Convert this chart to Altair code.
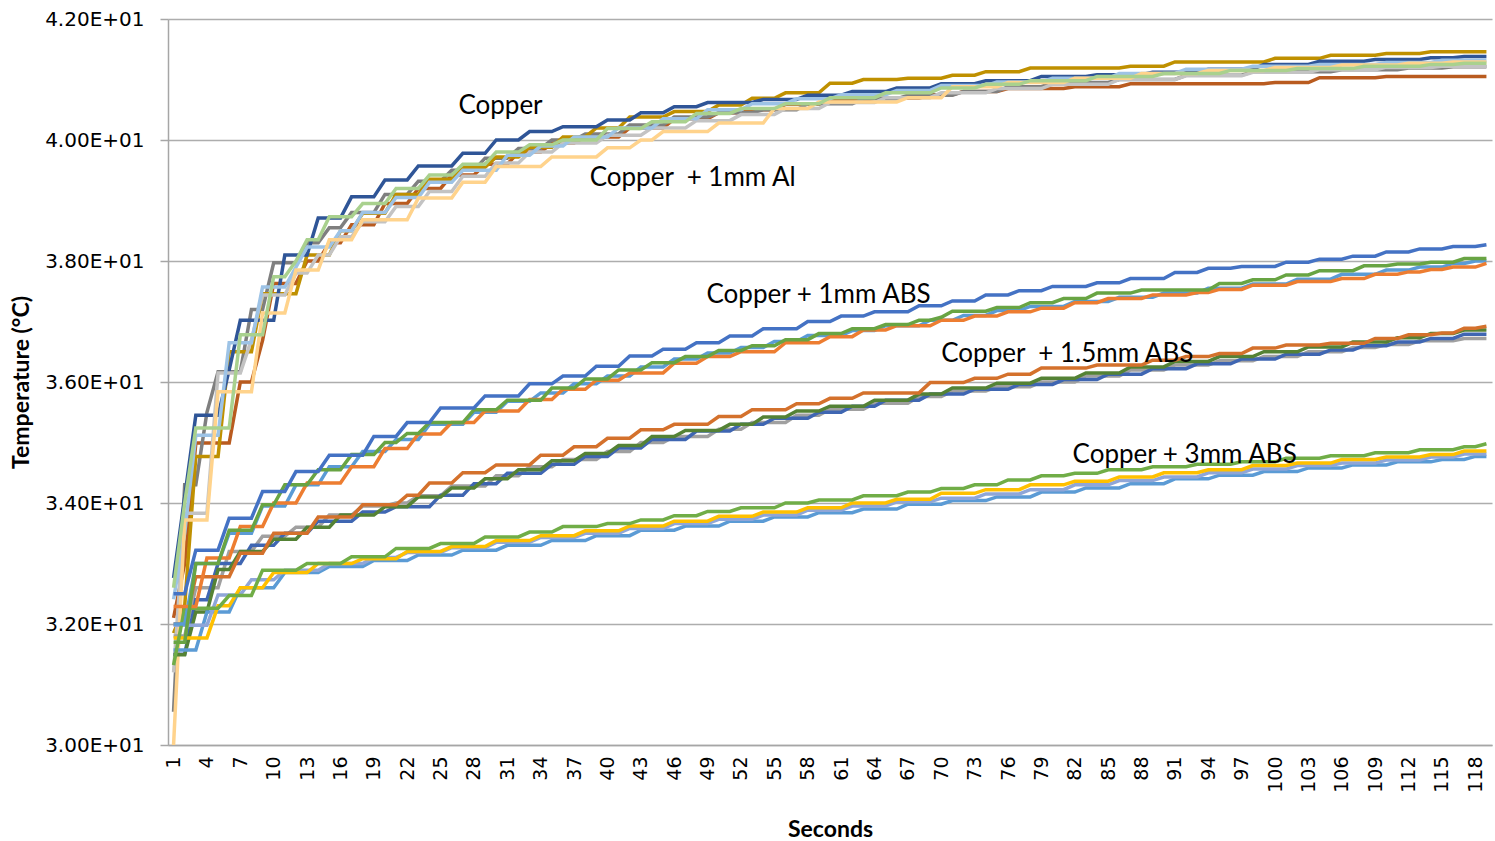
import altair as alt
import pandas as pd

# ---- data: step levels, [first second of level, temperature degC] ----
COPPER_A = [[1,32.76],[2,34.1],[3,35.45],[6,36.2],[7,37.02],[11,38.1],[14,38.71],[17,39.06],[20,39.34],[23,39.57],[27,39.78],[30,40.0],[33,40.14],[36,40.22],[40,40.33],[43,40.45],[46,40.55],[49,40.62],[54,40.67],[58,40.74],[62,40.8],[66,40.86],[70,40.93],[74,40.98],[79,41.05],[84,41.08],[89,41.12],[94,41.17],[99,41.25],[104,41.3],[109,41.33],[114,41.36],[117,41.38]]
COPPER_B = [[1,31.85],[2,32.3],[3,34.77],[6,36.5],[9,37.46],[13,38.1],[16,38.5],[18,38.79],[21,39.1],[24,39.35],[27,39.55],[30,39.72],[33,39.88],[36,40.05],[39,40.2],[42,40.38],[46,40.47],[50,40.58],[53,40.69],[56,40.78],[60,40.94],[63,41.0],[67,41.02],[71,41.07],[74,41.13],[78,41.19],[87,41.22],[91,41.29],[100,41.35],[105,41.4],[110,41.43],[114,41.46]]
COPPER_C = [[1,32.1],[2,33.0],[3,34.99],[7,36.0],[9,36.69],[10,37.63],[13,38.0],[15,38.3],[17,38.6],[20,38.95],[23,39.2],[26,39.42],[29,39.6],[32,39.8],[35,39.95],[38,40.05],[42,40.2],[46,40.35],[50,40.45],[53,40.5],[56,40.59],[60,40.65],[64,40.69],[69,40.75],[72,40.8],[76,40.85],[82,40.88],[87,40.93],[100,40.95],[104,41.03],[110,41.05]]
COPPER_D = [[1,30.55],[2,34.3],[4,35.5],[5,36.17],[8,37.2],[10,37.97],[13,38.3],[15,38.55],[17,38.8],[20,39.1],[23,39.32],[26,39.5],[29,39.7],[32,39.86],[35,40.0],[38,40.1],[42,40.25],[46,40.38],[50,40.45],[54,40.5],[58,40.6],[63,40.68],[67,40.74],[72,40.8],[76,40.88],[80,40.95],[86,41.0],[92,41.07],[98,41.13],[106,41.16],[112,41.19],[116,41.21]]
AL_A = [[1,31.2],[2,33.83],[5,36.15],[8,36.7],[9,37.44],[12,37.8],[14,38.1],[16,38.4],[18,38.65],[21,38.9],[24,39.15],[27,39.4],[30,39.62],[33,39.8],[36,39.95],[40,40.08],[44,40.2],[48,40.32],[52,40.42],[56,40.52],[60,40.62],[65,40.7],[70,40.78],[75,40.85],[80,40.92],[86,41.0],[92,41.06],[98,41.12],[104,41.16],[110,41.2],[115,41.22]]
AL_B = [[1,32.41],[2,33.5],[3,35.12],[6,36.65],[9,37.57],[12,37.9],[13,38.23],[16,38.5],[18,38.8],[21,39.05],[24,39.3],[27,39.5],[31,39.75],[34,39.9],[37,40.05],[41,40.2],[45,40.35],[49,40.5],[53,40.6],[57,40.68],[61,40.75],[66,40.82],[70,40.9],[75,40.96],[80,41.02],[86,41.1],[92,41.17],[98,41.22],[104,41.25],[110,41.28],[115,41.32]]
AL_C = [[1,30.0],[2,33.72],[5,35.84],[9,37.14],[12,37.85],[15,38.35],[18,38.68],[23,39.04],[27,39.3],[30,39.56],[35,39.72],[40,39.87],[43,40.0],[45,40.14],[50,40.28],[55,40.52],[59,40.63],[67,40.7],[71,40.88],[76,40.95],[82,41.02],[88,41.1],[94,41.15],[100,41.2],[106,41.24],[112,41.27],[116,41.29]]
AL_D = [[1,32.6],[2,34.0],[3,35.24],[7,36.78],[10,37.74],[12,38.0],[13,38.35],[15,38.73],[18,38.95],[21,39.2],[24,39.42],[27,39.6],[30,39.8],[33,39.92],[36,40.0],[40,40.19],[44,40.3],[48,40.44],[52,40.52],[56,40.6],[60,40.7],[65,40.78],[70,40.86],[74,40.92],[78,40.98],[84,41.05],[90,41.1],[96,41.15],[102,41.18],[108,41.22],[114,41.25],[117,41.27]]
ABS1_A = [[1,32.5],[3,33.22],[6,33.75],[9,34.19],[12,34.52],[15,34.79],[19,35.1],[22,35.33],[25,35.57],[29,35.77],[33,35.97],[36,36.1],[39,36.26],[42,36.43],[45,36.54],[48,36.65],[51,36.76],[54,36.88],[58,37.0],[61,37.09],[64,37.16],[68,37.26],[71,37.34],[74,37.44],[77,37.51],[80,37.58],[84,37.64],[87,37.71],[91,37.81],[94,37.88],[97,37.91],[101,37.98],[104,38.03],[107,38.08],[110,38.15],[113,38.2],[116,38.24],[119,38.27]]
ABS1_B = [[1,32.0],[3,33.0],[6,33.5],[9,33.95],[12,34.3],[15,34.6],[18,34.85],[21,35.05],[24,35.3],[28,35.5],[31,35.68],[34,35.82],[37,35.97],[40,36.1],[43,36.25],[46,36.38],[49,36.48],[52,36.57],[55,36.67],[58,36.77],[62,36.85],[65,36.93],[69,37.02],[72,37.1],[75,37.18],[78,37.25],[82,37.33],[86,37.4],[90,37.47],[94,37.55],[98,37.62],[102,37.7],[106,37.78],[110,37.85],[113,37.9],[116,37.96],[118,38.0]]
ABS1_C = [[1,31.7],[3,33.0],[6,33.55],[9,33.97],[11,34.3],[14,34.55],[17,34.8],[20,35.0],[22,35.15],[24,35.33],[28,35.54],[31,35.7],[35,35.9],[38,36.05],[41,36.2],[44,36.32],[47,36.42],[50,36.52],[53,36.6],[56,36.7],[59,36.8],[62,36.88],[65,36.95],[68,37.02],[70,37.07],[71,37.17],[75,37.23],[78,37.31],[81,37.38],[84,37.47],[88,37.52],[95,37.63],[98,37.69],[101,37.77],[104,37.84],[108,37.92],[111,37.95],[114,37.98],[117,38.04]]
ABS1_D = [[1,32.29],[4,33.09],[7,33.61],[10,34.0],[13,34.33],[17,34.6],[20,34.9],[23,35.14],[26,35.33],[29,35.52],[33,35.71],[36,35.88],[39,36.03],[42,36.15],[46,36.31],[49,36.42],[52,36.5],[56,36.65],[60,36.75],[63,36.86],[66,36.93],[70,37.02],[73,37.09],[76,37.16],[79,37.22],[82,37.31],[85,37.38],[89,37.44],[93,37.48],[95,37.53],[98,37.6],[102,37.66],[106,37.71],[109,37.78],[112,37.82],[114,37.86],[116,37.9],[119,37.96]]
ABS15_A = [[1,32.0],[3,32.78],[7,33.17],[10,33.5],[14,33.77],[18,33.97],[22,34.13],[24,34.33],[27,34.5],[30,34.63],[34,34.79],[37,34.93],[40,35.07],[43,35.21],[46,35.3],[50,35.43],[53,35.54],[57,35.64],[60,35.73],[63,35.82],[69,35.99],[73,36.06],[76,36.13],[79,36.23],[84,36.28],[89,36.36],[92,36.42],[95,36.47],[98,36.56],[101,36.61],[105,36.64],[109,36.72],[112,36.78],[115,36.81],[117,36.89],[119,36.92]]
ABS15_B = [[1,31.5],[3,32.4],[5,33.0],[8,33.3],[11,33.5],[14,33.7],[18,33.85],[21,33.94],[25,34.13],[28,34.32],[31,34.49],[35,34.64],[38,34.77],[41,34.91],[44,35.05],[48,35.19],[52,35.3],[55,35.4],[59,35.5],[62,35.6],[65,35.7],[69,35.8],[73,35.88],[77,35.96],[81,36.04],[85,36.13],[89,36.22],[93,36.3],[97,36.38],[101,36.46],[105,36.53],[108,36.6],[111,36.66],[114,36.72],[117,36.79]]
ABS15_C = [[1,31.49],[3,32.2],[5,32.9],[7,33.2],[10,33.4],[13,33.6],[16,33.8],[20,33.94],[23,34.1],[26,34.25],[29,34.4],[32,34.55],[35,34.7],[38,34.82],[41,34.95],[44,35.1],[47,35.2],[51,35.3],[54,35.42],[57,35.52],[60,35.6],[64,35.7],[68,35.8],[71,35.9],[75,35.98],[79,36.06],[83,36.15],[87,36.25],[91,36.34],[95,36.42],[99,36.5],[103,36.58],[107,36.66],[111,36.73],[114,36.8],[117,36.86]]
ABS15_D = [[1,31.8],[3,32.6],[6,33.2],[9,33.45],[12,33.6],[15,33.8],[18,33.95],[21,34.0],[23,34.12],[26,34.28],[30,34.45],[33,34.6],[36,34.72],[40,34.85],[43,35.0],[46,35.1],[50,35.22],[53,35.33],[57,35.45],[60,35.55],[64,35.65],[68,35.76],[71,35.85],[75,35.92],[79,36.0],[83,36.1],[87,36.2],[91,36.28],[95,36.35],[99,36.42],[103,36.5],[107,36.57],[110,36.62],[113,36.68],[117,36.72]]
ABS3_A = [[1,31.32],[2,32.26],[6,32.47],[9,32.89],[13,33.0],[17,33.11],[21,33.25],[25,33.33],[29,33.44],[33,33.52],[36,33.61],[40,33.66],[43,33.72],[46,33.79],[49,33.86],[52,33.92],[56,34.0],[59,34.05],[63,34.12],[67,34.18],[70,34.24],[73,34.3],[76,34.38],[79,34.45],[82,34.49],[85,34.55],[89,34.6],[93,34.64],[97,34.68],[101,34.74],[105,34.78],[109,34.83],[113,34.88],[117,34.93],[119,34.98]]
ABS3_B = [[1,31.77],[5,32.3],[7,32.6],[10,32.85],[14,33.0],[18,33.08],[22,33.2],[26,33.28],[30,33.38],[34,33.46],[38,33.54],[42,33.62],[46,33.7],[50,33.78],[54,33.85],[58,33.92],[62,34.0],[66,34.06],[70,34.16],[74,34.22],[78,34.3],[82,34.36],[86,34.43],[90,34.5],[94,34.55],[98,34.62],[102,34.66],[106,34.72],[110,34.76],[114,34.8],[117,34.86]]
ABS3_C = [[1,31.57],[4,32.2],[7,32.6],[11,32.85],[15,32.95],[19,33.05],[23,33.14],[27,33.22],[31,33.3],[35,33.38],[39,33.46],[43,33.55],[47,33.62],[51,33.7],[55,33.77],[59,33.84],[63,33.9],[67,33.98],[71,34.04],[75,34.1],[79,34.18],[83,34.25],[87,34.32],[91,34.4],[95,34.46],[99,34.52],[103,34.58],[107,34.63],[111,34.68],[115,34.72],[118,34.77]]
ABS3_D = [[1,31.98],[5,32.48],[8,32.73],[11,32.89],[15,33.0],[19,33.1],[22,33.18],[26,33.26],[30,33.35],[34,33.43],[38,33.5],[42,33.58],[46,33.66],[50,33.73],[54,33.8],[58,33.88],[62,33.95],[66,34.02],[70,34.08],[74,34.15],[78,34.22],[82,34.3],[86,34.37],[90,34.43],[94,34.5],[98,34.56],[102,34.62],[106,34.66],[110,34.71],[114,34.76],[117,34.81]]

SERIES = [
    ("s01", COPPER_C, "#B95B1F"),
    ("s02", COPPER_D, "#7F7F7F"),
    ("s03", COPPER_B, "#BF9000"),
    ("s04", COPPER_A, "#2F5597"),
    ("s05", AL_A, "#C3C3C3"),
    ("s06", AL_B, "#9DC3E6"),
    ("s07", AL_C, "#FFD38C"),
    ("s08", AL_D, "#A9D18E"),
    ("s09", ABS15_D, "#A0A0A0"),
    ("s10", ABS15_B, "#3F66B2"),
    ("s11", ABS15_C, "#548235"),
    ("s12", ABS15_A, "#D4712C"),
    ("s13", ABS3_C, "#5B9BD5"),
    ("s14", ABS3_D, "#8FA6D8"),
    ("s15", ABS3_B, "#FFC000"),
    ("s16", ABS3_A, "#70AD47"),
    ("s17", ABS1_B, "#5B9BD5"),
    ("s18", ABS1_D, "#ED7D31"),
    ("s19", ABS1_C, "#68A443"),
    ("s20", ABS1_A, "#4472C4"),
]

LAST_SECOND = 119
X_TICKS = list(range(1, 119, 3))
Y_TICKS = [30, 32, 34, 36, 38, 40, 42]

LABELS = ["Copper", "Copper\u00a0 + 1mm Al", "Copper + 1mm ABS", "Copper\u00a0 + 1.5mm ABS", "Copper + 3mm ABS"]
LABEL_S = [26.6, 38.4, 48.9, 70.0, 81.8]
LABEL_T = [40.56, 39.37, 37.44, 36.46, 34.79]

rows = []
for name, levels, _ in SERIES:
    for k, (s, v) in enumerate(levels):
        rows.append({"series": name, "s": s, "T": v})
        end = levels[k + 1][0] - 1 if k + 1 < len(levels) else LAST_SECOND
        if end > s:
            rows.append({"series": name, "s": end, "T": v})
df = pd.DataFrame(rows)

names = [n for n, _, _ in SERIES]
colors = [c for _, _, c in SERIES]

XS = alt.Scale(domain=[0.5, 119.5], nice=False, zero=False)
YS = alt.Scale(domain=[30, 42], nice=False, zero=False)

X_AXIS = alt.Axis(values=X_TICKS, labelAngle=-90, grid=False, title="Seconds",
                  labelFont="DejaVu Sans", labelFontSize=19, labelColor="#000000",
                  labelPadding=11, ticks=False, domainColor="#A6A6A6", domainWidth=1.5,
                  titleFont="Lato", titleFontSize=23, titleFontWeight="bold",
                  titleColor="#000000", titlePadding=26, labelOverlap=False,
                  labelFlush=False)
Y_AXIS = alt.Axis(values=Y_TICKS, labelExpr="format(datum.value/10, '.2f') + 'E+01'",
                  title="Temperature (\u00b0C)", grid=True, gridColor="#ADADAD", gridWidth=1.5,
                  tickColor="#A6A6A6", tickSize=8, tickWidth=1.5,
                  domainColor="#A6A6A6", domainWidth=1.5,
                  labelFont="DejaVu Sans", labelFontSize=20, labelColor="#000000",
                  labelPadding=16, titleFont="Lato", titleFontSize=23,
                  titleFontWeight="bold", titleColor="#000000", titlePadding=11,
                  labelFlush=False, labelOverlap=False)

lines = alt.Chart(df).mark_line(strokeWidth=3.5, interpolate="linear").encode(
    x=alt.X("s:Q", scale=XS, axis=X_AXIS),
    y=alt.Y("T:Q", scale=YS, axis=Y_AXIS),
    color=alt.Color("series:N", scale=alt.Scale(domain=names, range=colors), legend=None),
    order=alt.Order("s:Q"),
)

ann_df = pd.DataFrame({"label": LABELS, "s": LABEL_S, "T": LABEL_T})
texts = alt.Chart(ann_df).mark_text(align="left", baseline="middle", font="Lato", fontSize=26,
                                    color="#000000").encode(
    x=alt.X("s:Q", scale=XS, axis=X_AXIS),
    y=alt.Y("T:Q", scale=YS, axis=Y_AXIS),
    text="label:N",
)

chart = alt.layer(lines, texts).properties(
    width=1324, height=726,
    autosize=alt.AutoSizeParams(type="none"),
    padding={"left": 168, "top": 19, "right": 3, "bottom": 96},
).configure(background="#FFFFFF").configure_view(stroke=None)

chart.save("out.html", embed_options={"renderer": "svg", "actions": False})
